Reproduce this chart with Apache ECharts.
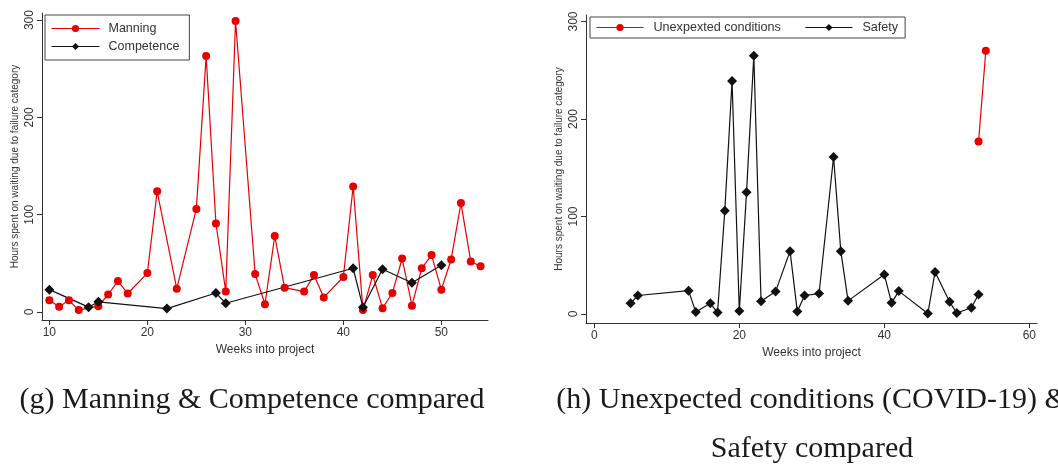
<!DOCTYPE html>
<html>
<head>
<meta charset="utf-8">
<title>Waiting hours by failure category</title>
<script src="https://cdn.jsdelivr.net/npm/echarts@6/dist/echarts.min.js"></script>
<style>
  html, body { margin: 0; padding: 0; background: #fff; }
  #chart { width: 1058px; height: 465px; }
</style>
</head>
<body>
<div id="chart"></div>
<script>
// Panel (g): Manning vs Competence
const manningWeeks = [10, 11, 12, 13, 15, 16, 17, 18, 20, 21, 23, 25, 26, 27, 28, 29, 31, 32, 33, 34, 36, 37, 38, 40, 41, 42, 43, 44, 45, 46, 47, 48, 49, 50, 51, 52, 53, 54];
const manningHours = [12, 5.5, 12, 2, 6, 18, 32, 19, 40, 124, 24, 106, 263, 91, 21, 299, 39, 8, 78, 25, 21, 38, 15, 36, 129, 2, 38, 4, 19.5, 55, 6.5, 45, 58.5, 23, 54, 112, 52, 47];
const competenceWeeks = [10, 14, 15, 22, 27, 28, 41, 42, 44, 47, 50];
const competenceHours = [23, 5, 10.5, 3.5, 19.5, 9, 45, 5, 44, 30, 48];

// Panel (h): Unexpected conditions vs Safety
const unexpectedWeeks = [53, 54];
const unexpectedHours = [177, 270];
const safetyWeeks = [5, 6, 13, 14, 16, 17, 18, 19, 20, 21, 22, 23, 25, 27, 28, 29, 31, 33, 34, 35, 40, 41, 42, 46, 47, 49, 50, 52, 53];
const safetyHours = [11, 19, 24, 2, 11, 1.5, 106, 239, 3, 125, 265, 13, 23, 64.5, 2.5, 19, 21, 161, 64.5, 13.5, 40.5, 11.5, 23.5, 0.5, 43, 12.5, 1, 6.5, 20];

// Tick labels
const leftXTicks = [10, 20, 30, 40, 50];
const rightXTicks = [0, 20, 40, 60];
const yTicks = [0, 100, 200, 300];

// Text
const yTitle = 'Hours spent on waiting due to failure category';
const xTitle = 'Weeks into project';
const captionG = '(g) Manning & Competence compared';
const captionH1 = '(h) Unexpected conditions (COVID-19) &';
const captionH2 = 'Safety compared';

const RED = '#e60000';
const BLACK = '#111111';
const SANS = 'Liberation Sans, Arial, sans-serif';
const SERIF = 'Liberation Serif, Times New Roman, serif';

const pairs = (xs, ys) => xs.map((x, i) => [x, ys[i]]);

function xAxisFor(gridIndex, min, max, ticks) {
  return {
    type: 'value', gridIndex, min, max,
    name: xTitle, nameLocation: 'middle', nameGap: 24,
    nameTextStyle: { fontFamily: SANS, fontSize: 12, color: '#333' },
    splitLine: { show: false },
    axisLine: { onZero: false, lineStyle: { color: '#333', width: 1 } },
    axisTick: { customValues: ticks, length: 5, lineStyle: { color: '#333' } },
    axisLabel: { customValues: ticks, fontFamily: SANS, fontSize: 12, color: '#333', margin: 7 }
  };
}

function yAxisFor(gridIndex, min, max) {
  return {
    type: 'value', gridIndex, min, max,
    name: yTitle, nameLocation: 'middle', nameRotate: 90, nameGap: 22,
    nameTextStyle: { fontFamily: SANS, fontSize: 10, color: '#333' },
    splitLine: { show: false },
    axisLine: { show: true, onZero: false, lineStyle: { color: '#333', width: 1 } },
    axisTick: { show: true, customValues: yTicks, length: 5, lineStyle: { color: '#333' } },
    axisLabel: { customValues: yTicks, rotate: 90, fontFamily: SANS, fontSize: 12, color: '#333', margin: 6 }
  };
}

function lineSeries(name, xi, yi, data, color, symbol, size) {
  return {
    name, type: 'line', xAxisIndex: xi, yAxisIndex: yi, data,
    symbol, symbolSize: size, showSymbol: true,
    itemStyle: { color, opacity: 1 },
    lineStyle: { color, width: 1.2 },
    emphasis: { disabled: true },
    animation: false
  };
}

const chart = echarts.init(document.getElementById('chart'), null, { renderer: 'canvas' });

chart.setOption({
  backgroundColor: '#ffffff',
  animation: false,
  grid: [
    { left: 42, top: 13, width: 446, height: 307 },
    { left: 586, top: 15, width: 451, height: 308 }
  ],
  xAxis: [
    xAxisFor(0, 9.25, 54.76, leftXTicks),
    xAxisFor(1, -1.145, 61.06, rightXTicks)
  ],
  yAxis: [
    yAxisFor(0, -8.2, 307.3),
    yAxisFor(1, -9.2, 306.7)
  ],
  legend: [
    {
      data: ['Manning', 'Competence'],
      orient: 'vertical', left: 45, top: 15,
      borderColor: '#444', borderWidth: 1, borderRadius: 0,
      padding: [7, 10, 7, 6], itemGap: 5,
      itemWidth: 48, itemHeight: 9,
      textStyle: { fontFamily: SANS, fontSize: 12.5, color: '#333', padding: [0, 0, 0, 4] },
      lineStyle: { width: 1 }
    },
    {
      data: ['Unexpexted conditions', 'Safety'],
      orient: 'horizontal', left: 590, top: 17,
      borderColor: '#444', borderWidth: 1, borderRadius: 0,
      padding: [4, 7, 4, 6], itemGap: 24,
      itemWidth: 47, itemHeight: 9,
      textStyle: { fontFamily: SANS, fontSize: 12.6, color: '#333', padding: [0, 0, 0, 5] },
      lineStyle: { width: 1 }
    }
  ],
  series: [
    lineSeries('Manning', 0, 0, pairs(manningWeeks, manningHours), RED, 'circle', 8),
    lineSeries('Competence', 0, 0, pairs(competenceWeeks, competenceHours), BLACK, 'diamond', 10),
    lineSeries('Unexpexted conditions', 1, 1, pairs(unexpectedWeeks, unexpectedHours), RED, 'circle', 8),
    lineSeries('Safety', 1, 1, pairs(safetyWeeks, safetyHours), BLACK, 'diamond', 10)
  ],
  graphic: [
    { type: 'text', x: 252, y: 400,
      style: { text: captionG, x: 0, y: 0, align: 'center', verticalAlign: 'middle',
               font: '30px ' + SERIF, fill: '#1a1a1a' } },
    { type: 'text', x: 812, y: 400,
      style: { text: captionH1, x: 0, y: 0, align: 'center', verticalAlign: 'middle',
               font: '30px ' + SERIF, fill: '#1a1a1a' } },
    { type: 'text', x: 812, y: 449,
      style: { text: captionH2, x: 0, y: 0, align: 'center', verticalAlign: 'middle',
               font: '30px ' + SERIF, fill: '#1a1a1a' } }
  ]
});
</script>
</body>
</html>
